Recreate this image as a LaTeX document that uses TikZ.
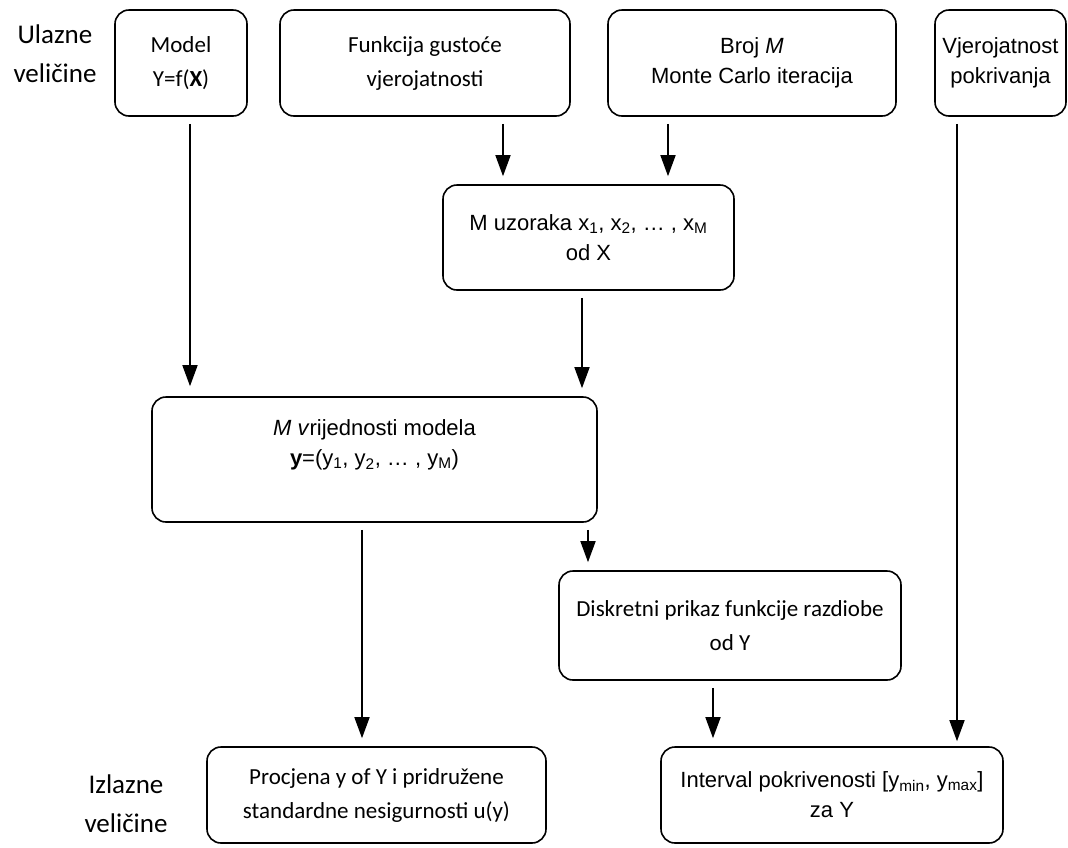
\documentclass[tikz,border=0pt]{standalone}
\usepackage{fontspec}
\setmainfont{Carlito}
\newfontfamily\arialf{Liberation Sans}
\usetikzlibrary{arrows.meta}
\tikzset{
  box/.style={draw, line width=1.6pt, rounded corners=14pt, inner sep=0pt, align=center},
  cal/.style={font=\fontsize{23}{34}\selectfont},
  ari/.style={font=\arialf\fontsize{22}{30}\selectfont},
  lbl/.style={font=\fontsize{27}{39}\selectfont, align=center, inner sep=0pt},
  arr/.style={line width=1.6pt, -{Triangle[length=21pt,width=15pt]}, shorten <=7pt, shorten >=8pt}
}
\begin{document}
\begin{tikzpicture}[x=1pt,y=-1pt]
\path[use as bounding box] (0,0) rectangle (1068,847);

\node[lbl] (lin) at (55,54) {Ulazne\\veličine};
\node[lbl] (lout) at (126,804) {Izlazne\\veličine};

\node[box,cal,minimum width=132pt,minimum height=106pt] (model) at (181,63) {Model\\Y=f(\textbf{X})};
\node[box,cal,minimum width=290pt,minimum height=106pt] (pdf) at (425,63) {Funkcija gustoće\\vjerojatnosti};
\node[box,ari,minimum width=288pt,minimum height=106pt] (numM) at (752,63) {Broj \textit{M}\\Monte Carlo iteracija};
\node[box,ari,minimum width=131pt,minimum height=106pt] (prob) at (1000.5,63) {Vjerojatnost\\pokrivanja};

\node[box,ari,minimum width=291pt,minimum height=105pt] (samples) at (588.5,237.5) {M uzoraka x\textsubscript{1}, x\textsubscript{2}, … , x\textsubscript{M}\\od X};

\node[box,ari,minimum width=445pt,minimum height=125pt] (yvals) at (374.5,459.5) {\textit{M v}rijednosti modela\\\textbf{y}=(y\textsubscript{1}, y\textsubscript{2}, … , y\textsubscript{M})\\[4pt]};

\node[box,cal,minimum width=342pt,minimum height=109pt] (discrete) at (730,625.5) {Diskretni prikaz funkcije razdiobe\\od Y};

\node[box,cal,minimum width=339pt,minimum height=96pt] (estimate) at (376.5,795) {Procjena y of Y i pridružene\\standardne nesigurnosti u(y)};
\node[box,ari,minimum width=342pt,minimum height=96pt] (interval) at (832,795) {Interval pokrivenosti [y\textsubscript{min}, y\textsubscript{max}]\\za Y};

\coordinate (c1) at (503,0);
\coordinate (c2) at (668,0);
\coordinate (c3) at (190,0);
\coordinate (c4) at (582,0);
\coordinate (c5) at (957,0);
\coordinate (c6) at (362,0);
\coordinate (c7) at (588,0);
\coordinate (c8) at (713,0);

\draw[arr] (pdf.south -| c1) -- (samples.north -| c1);
\draw[arr] (numM.south -| c2) -- (samples.north -| c2);
\draw[arr,shorten >=10pt] (model.south -| c3) -- (yvals.north -| c3);
\draw[arr] (samples.south -| c4) -- (yvals.north -| c4);
\draw[arr,shorten >=5pt] (prob.south -| c5) -- (interval.north -| c5);
\draw[arr] (yvals.south -| c6) -- (estimate.north -| c6);
\draw[arr] (yvals.south -| c7) -- (discrete.north -| c7);
\draw[arr] (discrete.south -| c8) -- (interval.north -| c8);
\end{tikzpicture}
\end{document}
